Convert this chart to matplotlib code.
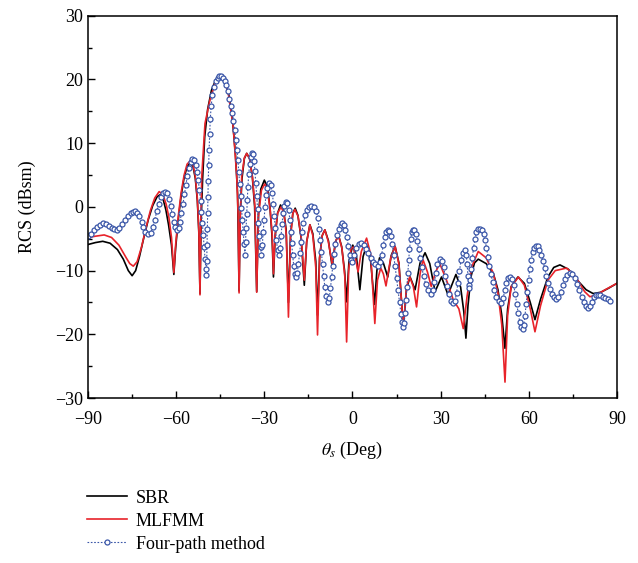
import numpy as np
import matplotlib.pyplot as plt
from matplotlib.ticker import MultipleLocator

plt.rcParams["font.family"] = "Liberation Serif"
plt.rcParams["mathtext.fontset"] = "stix"

# SBR (black)
sbr_theta = [-90, -87.5, -85, -82.5, -80, -78, -76.3, -75, -73.8, -72.5, -71, -69.5, -68, -66.5, -65.5,
             -64.5, -63.5, -62.6, -61.6, -60.8, -60.2, -59.3, -58.3, -57.3, -56.3, -55.3, -54.3, -53.5,
             -52.8, -52.3, -51.9, -51.5, -51.0, -50.3, -49.3, -48.0, -46.5, -44.7, -43.3, -42.0, -40.8,
             -39.8, -39.1, -38.6, -38.2, -37.6, -36.8, -36.0, -35.0, -34.1, -33.3, -32.6, -32.0, -31.2,
             -30.0, -29.0, -28.1, -27.4, -26.9, -26.3, -25.5, -24.5, -23.5, -22.6, -21.8, -21.1, -20.3,
             -19.5, -18.6, -17.5, -16.4, -15.6, -14.5, -13.5, -12.5, -11.9, -11.2, -10.3, -9.4, -8.2,
             -6.9, -5.8, -4.8, -3.7, -2.7, -2.0, -1.2, 0.1, 1.3, 2.5, 3.6, 4.8, 6.2, 7.5, 8.3, 9.2, 10.5,
             12.0, 13.2, 14.5, 15.8, 17.3, 18.4, 19.6, 21.3, 23.0, 24.7, 26.3, 28.1, 30.3, 32.5, 35.2,
             36.8, 37.9, 38.6, 39.3, 40.3, 41.5, 42.8, 45.5, 47.9, 49.5, 50.8, 51.9, 52.8, 54.0, 56.3,
             58.5, 60.5, 62.1, 64.0, 66.5, 68.5, 70.6, 73.5, 76.5, 79.5, 81.9, 84.5, 87.0, 90.0]
sbr_rcs = [-5.9, -5.6, -5.4, -5.7, -6.7, -8.2, -10.0, -10.8, -10.0, -7.8, -4.8, -2.0, 0.2, 1.6, 1.9,
           1.3, -0.5, -2.8, -6.0, -10.6, -6.5, -2.0, 1.8, 4.6, 6.3, 6.9, 6.4, 4.5,
           1.0, -4.0, -13.6, -2.0, 4.5, 11.0, 15.3, 18.3, 20.0, 20.4, 19.5, 17.4, 13.5,
           8.0, 2.0, -13.2, -1.0, 4.5, 7.6, 8.4, 7.6, 4.8, 0.0, -13.3, -1.0, 2.8,
           4.2, 3.2, 0.0, -4.5, -11.0, -4.5, -1.0, 0.3, -0.5, -3.5, -15.0, -4.5, -1.0,
           -0.2, -1.3, -4.8, -12.3, -5.5, -2.8, -4.2, -8.5, -17.0, -8.0, -4.5, -3.6, -5.3,
           -9.4, -5.5, -4.4, -6.2, -10.0, -14.9, -8.5, -6.0, -7.6, -13.0, -7.8, -6.0, -8.6, -15.3, -10.0, -8.0, -8.8,
           -11.0, -7.6, -6.2, -8.8, -19.0, -12.8, -11.0, -13.0, -8.8, -7.2, -8.9, -13.3, -11.0, -13.8, -10.6,
           -12.6, -16.5, -20.6, -15.5, -11.0, -8.8, -8.2, -8.9, -10.4, -13.0, -17.0, -22.2, -16.0, -12.5, -11.0,
           -12.0, -15.0, -17.7, -14.5, -11.0, -9.5, -9.1, -9.8, -11.5, -13.0, -13.6, -13.4, -12.8, -12.0]

# MLFMM (red)
mlfmm_theta = [-90, -87.5, -84.5, -82, -79.5, -77, -75.8, -74.6, -73.3, -71.8, -70.3, -68.8, -67.3, -65.8,
               -64.5, -63.4, -62.5, -61.6, -60.8, -60.2, -59.3, -58.3, -57.3, -56.3, -55.3, -54.3, -53.5,
               -52.8, -52.3, -51.9, -51.6, -51.3, -50.2, -48.5, -46.8, -44.7, -43.3, -42.3, -40.6, -39.4,
               -38.9, -38.6, -38.2, -37.7, -36.8, -36.0, -35.0, -34.0, -33.2, -32.6, -32.0, -31.0, -29.9,
               -29.0, -28.0, -27.3, -26.9, -26.4, -25.5, -24.3, -23.3, -22.5, -21.8, -21.1, -20.3, -19.6,
               -18.5, -17.4, -16.4, -15.6, -14.5, -13.5, -12.5, -11.9, -11.2, -10.3, -9.4, -8.2, -6.9,
               -5.8, -4.8, -3.6, -2.6, -2.0, -1.3, -0.5, 0.3, 1.0, 1.9, 3.0, 4.8, 6.2, 7.6, 8.5, 9.6,
               10.5, 11.4, 13.0, 14.5, 15.8, 17.3, 18.4, 19.5, 20.7, 21.8, 23.0, 24.0, 25.5, 26.8, 28.3,
               29.7, 32.0, 34.3, 36.2, 37.7, 39.0, 40.5, 42.8, 45.5, 47.9, 49.5, 50.8, 51.9, 52.8, 54.0,
               56.5, 58.5, 60.5, 62.1, 64.0, 66.5, 69.0, 72.9, 76.0, 79.0, 80.8, 83.0, 86.0, 90.0]
mlfmm_rcs = [-4.8, -4.6, -4.4, -4.8, -6.0, -8.0, -8.9, -9.3, -8.6, -6.3, -3.3, -0.6, 1.4, 2.4,
             1.9, 0.4, -1.6, -4.8, -10.3, -6.0, -1.5, 2.3, 5.0, 6.7, 7.2, 6.7, 4.8,
             1.3, -3.5, -13.8, -2.0, 4.8, 13.1, 16.8, 19.4, 20.5, 19.6, 17.9, 12.6, 4.8,
             -1.5, -13.5, -1.5, 4.8, 7.7, 8.4, 7.5, 4.5, 0.0, -13.4, -1.5, 2.6, 3.6,
             2.8, -0.5, -4.5, -10.5, -4.8, -1.0, 0.0, -1.0, -4.5, -17.3, -4.8, -1.0, -0.4,
             -1.5, -5.0, -11.5, -5.5, -2.8, -4.5, -9.5, -20.1, -8.0, -4.5, -3.6, -5.5, -9.0,
             -5.5, -4.4, -6.5, -11.0, -21.2, -10.0, -6.5, -6.3, -8.0, -10.2, -7.0, -4.9, -7.5, -18.3, -11.5, -9.6,
             -10.5, -12.4, -8.0, -6.2, -9.0, -19.0, -12.5, -11.0, -12.5, -15.7, -10.5, -8.3, -10.2, -12.5, -10.2,
             -8.9, -11.5, -14.6, -16.0, -19.1, -14.0, -9.5, -7.0, -8.0, -10.4, -13.5, -18.5, -27.5, -17.0, -12.5,
             -11.0, -12.3, -16.0, -19.6, -15.5, -11.5, -10.0, -9.6, -11.0, -13.3, -14.1, -13.8, -13.0, -12.0]

# Four-path method (blue)
four_theta = [-90, -89, -88, -87, -86, -84.9, -84, -83, -82, -81, -80.2, -79.3, -78.5, -77.5, -76.5,
              -75.5, -74.8, -74, -73.2, -72.5, -71.8, -71.2, -70.5, -69.5, -68.7, -68, -67.3, -66.6,
              -66, -65.2, -64.5, -63.8, -63.1, -62.5, -61.9, -61.4, -60.9, -60.4, -59.8, -59.2, -58.7,
              -58.2, -57.7, -57.2, -56.7, -56.2, -55.7, -55.1, -54.5, -53.9, -53.4, -52.9, -52.5, -52.1,
              -51.7, -51.4, -51.1, -50.8, -50.5, -50.2, -49.9, -49.7, -49.6, -49.5, -49.4, -49.3, -49.2,
              -49.1, -48.95, -48.8, -48.6, -48.4, -48.1, -47.7, -47.2, -46.6, -45.9, -45.3, -44.7, -44.1,
              -43.5, -42.9, -42.4, -41.9, -41.4, -40.9, -40.5, -40.1, -39.7, -39.3, -39.0, -38.7, -38.4,
              -38.1, -37.8, -37.5, -37.2, -36.9, -36.6, -36.4, -36.2, -36.0, -35.8, -35.6, -35.3, -35.0,
              -34.7, -34.3, -33.9, -33.5, -33.2, -32.9, -32.6, -32.3, -32.0, -31.7, -31.3, -31.0, -30.7,
              -30.4, -30.1, -29.8, -29.5, -29.1, -28.4, -27.8, -27.3, -26.9, -26.6, -26.3, -25.9, -25.5,
              -25.0, -24.6, -24.3, -24.0, -23.6, -23.2, -22.7, -22.2, -21.7, -21.3, -21.0, -20.7, -20.4,
              -20.0, -19.6, -19.2, -18.8, -18.4, -18.0, -17.6, -17.2, -16.7, -16.1, -15.5, -14.8, -14.1,
              -13.0, -12.3, -11.8, -11.4, -11.0, -10.6, -10.2, -9.8, -9.4, -8.9, -8.4, -7.9, -7.5, -7.1,
              -6.7, -6.3, -5.8, -5.2, -4.6, -4.0, -3.5, -2.9, -2.4, -1.9, -1.4, -0.9, -0.4, -0.1, 0.6,
              1.3, 2.2, 3.0, 3.8, 4.6, 5.4, 6.2, 7.0, 7.8, 8.7, 9.3, 9.9, 10.5, 11.0, 11.5, 12.0, 12.5,
              13.0, 13.5, 14.0, 14.5, 15.0, 15.5, 16.0, 16.5, 16.9, 17.3, 17.6, 17.9, 18.2, 18.5, 18.8,
              19.1, 19.4, 19.8, 20.2, 20.5, 21.0, 21.5, 22.0, 22.5, 23.0, 23.6, 24.2, 24.9, 25.7, 26.8,
              27.4, 27.9, 28.4, 28.9, 29.7, 30.4, 31.0, 31.6, 32.2, 32.8, 33.5, 34.3, 34.9, 35.4, 35.9,
              36.4, 36.9, 37.5, 38.3, 38.7, 39.0, 39.3, 39.6, 39.8, 40.1, 40.4, 40.8, 41.2, 41.7, 42.2,
              42.8, 43.4, 44.0, 44.6, 45.1, 45.6, 46.1, 46.6, 47.1, 47.7, 48.3, 49.0, 49.8, 50.7, 51.3,
              51.8, 52.3, 52.9, 53.6, 54.3, 54.9, 55.4, 55.9, 56.4, 56.9, 57.4, 57.9, 58.3, 58.7, 59.1,
              59.5, 59.9, 60.3, 60.8, 61.3, 61.8, 62.4, 63.0, 63.6, 64.2, 64.8, 65.4, 66.0, 66.6, 67.2,
              67.9, 68.6, 69.4, 70.1, 70.8, 71.5, 72.2, 73.0, 74.0, 74.8, 75.6, 76.4, 77.2, 78.0, 78.8,
              79.5, 80.2, 80.8, 81.4, 82.1, 82.8, 83.6, 84.4, 85.2, 86.0, 86.8, 87.6]
four_rcs = [-4.6, -4.2, -3.7, -3.2, -2.8, -2.6, -2.7, -3.0, -3.3, -3.5, -3.6, -3.3, -2.7, -2.0, -1.4,
            -1.0, -0.8, -0.7, -0.9, -1.5, -2.3, -3.2, -3.9, -4.3, -4.1, -3.2, -2.0, -0.7,
            0.4, 1.5, 2.2, 2.4, 2.2, 1.3, 0.2, -1.1, -2.3, -3.2, -3.6, -3.3, -2.3,
            -1.0, 0.5, 2.0, 3.5, 4.9, 6.1, 7.0, 7.5, 7.3, 6.6, 5.5, 4.2, 2.7,
            1.0, -0.8, -2.6, -4.4, -6.3, -8.2, -9.8, -10.7, -8.5, -6.0, -3.5, -1.0, 1.5,
            4.0, 6.5, 9.0, 11.5, 13.8, 15.8, 17.5, 18.8, 19.7, 20.2, 20.5, 20.5, 20.3,
            19.8, 19.2, 18.2, 17.0, 15.8, 14.8, 13.5, 12.0, 10.5, 9.0, 7.3, 5.5, 3.6,
            1.7, -0.2, -2.0, -3.9, -5.8, -7.6, -5.5, -3.3, -1.1, 1.1, 3.2, 5.2, 6.8,
            7.9, 8.5, 8.3, 7.2, 5.6, 3.7, 1.7, -0.4, -2.5, -4.5, -6.3, -7.6, -6.0,
            -4.0, -2.0, 0.0, 1.8, 3.0, 3.7, 3.4, 2.2, 0.5, -1.4, -3.3, -5.2, -6.8,
            -7.6, -6.4, -4.6, -2.7, -1.0, 0.2, 0.8, 0.6, -0.5, -2.1, -3.9, -5.7, -7.5,
            -9.2, -10.5, -11.0, -10.4, -8.9, -7.2, -5.5, -3.9, -2.5, -1.3, -0.5, 0.0, 0.2,
            0.0, -0.6, -1.8, -3.4, -5.2, -7.1, -9.0, -10.9, -12.6, -14.0, -14.9, -14.3, -12.8, -11.0,
            -9.2, -7.4, -5.8, -4.4, -3.4, -2.8, -2.6, -2.8, -3.6, -4.8, -6.2, -7.5, -8.4, -8.6, -7.6,
            -6.4, -5.8, -5.7, -6.0, -6.6, -7.3, -8.0, -8.6, -9.0, -9.2, -8.6, -7.5, -6.0, -4.7, -3.9, -3.6, -3.8,
            -4.6, -5.9, -7.5, -9.3, -11.2, -13.1, -15.0, -16.8, -18.1, -18.8, -18.2, -16.6, -14.6, -12.5, -10.4,
            -8.4, -6.6, -5.0, -3.9, -3.6, -3.7, -4.3, -5.3, -6.6, -8.0, -9.5, -10.9, -12.1, -13.1, -13.6,
            -13.0, -11.8, -10.3, -9.0, -8.2, -8.5, -9.5, -10.9, -12.4, -13.7, -14.7, -15.1, -14.7, -13.5, -11.9,
            -10.1, -8.4, -7.2, -6.8, -7.5, -9.0, -10.8, -12.2, -12.8, -11.5, -9.8, -8.0, -6.4, -5.0, -4.0,
            -3.5, -3.4, -3.6, -4.2, -5.2, -6.4, -7.8, -9.2, -10.5, -11.8, -13.0, -14.1, -14.8, -15.1, -14.3,
            -13.1, -11.9, -11.1, -11.0, -11.3, -12.3, -13.7, -15.2, -16.7, -18.0, -18.9, -19.1, -18.5, -17.1, -15.3,
            -13.4, -11.5, -9.8, -8.3, -7.1, -6.4, -6.1, -6.2, -6.7, -7.5, -8.5, -9.6, -10.8, -11.9, -12.9,
            -13.7, -14.2, -14.4, -14.1, -13.3, -12.3, -11.3, -10.7, -10.4, -10.6, -11.2, -12.1, -13.1, -14.1, -15.0,
            -15.6, -15.9, -15.6, -14.9, -14.2, -13.9, -13.8, -13.9, -14.1, -14.3, -14.5, -14.7]

fig = plt.figure(figsize=(6.38, 5.63), dpi=100)
ax = fig.add_axes([0.138, 0.293, 0.829, 0.679])

ax.plot(sbr_theta, sbr_rcs, color="black", lw=1.2, label="SBR")
ax.plot(mlfmm_theta, mlfmm_rcs, color="#e8232a", lw=1.2, label="MLFMM")
ax.plot(four_theta, four_rcs, color="#3a56a8", lw=0.8, ls=(0, (1.5, 1.5)),
        marker="o", ms=3.6, mfc="white", mec="#3a56a8", mew=0.9, label="Four-path method")

ax.set_xlim(-90, 90)
ax.set_ylim(-30, 30)
ax.xaxis.set_major_locator(MultipleLocator(30))
ax.xaxis.set_minor_locator(MultipleLocator(15))
ax.yaxis.set_major_locator(MultipleLocator(10))
ax.yaxis.set_minor_locator(MultipleLocator(5))
ax.tick_params(which="both", direction="in", labelsize=13)
ax.tick_params(which="major", length=5, width=1)
ax.tick_params(which="minor", length=3, width=1)
ax.tick_params(axis="x", which="major", pad=9)
for s in ax.spines.values():
    s.set_linewidth(1.1)

ax.set_xlabel(r"$\theta_s$ (Deg)", fontsize=13, labelpad=9)
ax.set_ylabel("RCS (dBsm)", fontsize=13, labelpad=14)

fig.legend(loc="upper left", bbox_to_anchor=(0.125, 0.143), frameon=False, fontsize=13,
           handlelength=2.2, handletextpad=0.5, numpoints=1, labelspacing=0.33, borderaxespad=0)

plt.savefig("out.png", dpi=100)
